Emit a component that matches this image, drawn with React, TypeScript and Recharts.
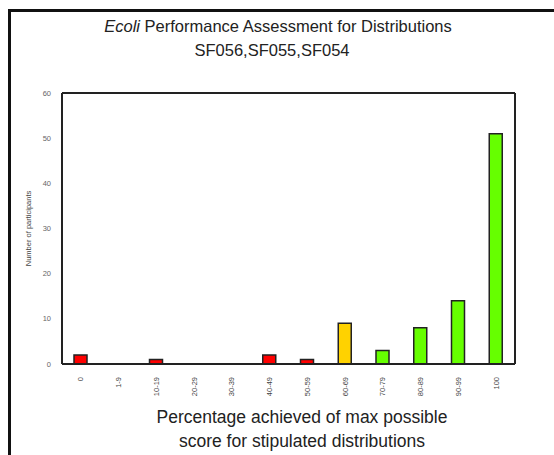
import { BarChart, Bar, XAxis, YAxis, Cell } from "recharts"

const categories = ["0", "1-9", "10-19", "20-29", "30-39", "40-49", "50-59", "60-69", "70-79", "80-89", "90-99", "100"]
const participants = [2, 0, 1, 0, 0, 2, 1, 9, 3, 8, 14, 51]
const barColors = ["#ff0000", "#ff0000", "#ff0000", "#ff0000", "#ff0000", "#ff0000", "#ff0000", "#ffd200", "#66ff00", "#66ff00", "#66ff00", "#66ff00"]
const yTicks = [0, 10, 20, 30, 40, 50, 60]

const data = categories.map((c, i) => ({ range: c, count: participants[i] }))

const font = '"Liberation Sans", Arial, sans-serif'

function RotatedTick(props: any) {
  const { x, y, payload } = props
  return (
    <text
      x={0}
      y={0}
      transform={`translate(${x + 2.5},${y + 5}) rotate(-90)`}
      textAnchor="end"
      fontSize={7.5}
      fill="#444"
      fontFamily={font}
    >
      {payload.value}
    </text>
  )
}

export default function App() {
  return (
    <div style={{ position: "absolute", left: 0, top: 0, width: 554, height: 455, background: "#fff", fontFamily: font }}>
      <div
        style={{
          position: "absolute",
          left: 8,
          top: 9,
          right: 0,
          bottom: 0,
          borderTop: "3px solid #111",
          borderLeft: "3px solid #111",
        }}
      />
      <div style={{ position: "absolute", left: 0, width: 554, top: 14, textAlign: "center", fontSize: 16.5, lineHeight: "24px", color: "#222", paddingLeft: 2, boxSizing: "border-box" }}>
        <div>
          <i>Ecoli</i> Performance Assessment for Distributions
        </div>
        <div style={{ marginLeft: -12 }}>SF056,SF055,SF054</div>
      </div>
      <BarChart
        width={554}
        height={455}
        data={data}
        margin={{ top: 92, right: 38, left: 22, bottom: 51 }}
        barCategoryGap={0}
      >
        <XAxis
          dataKey="range"
          interval={0}
          height={40}
          tick={<RotatedTick />}
          tickLine={false}
          axisLine={{ stroke: "#222", strokeWidth: 2 }}
        />
        <XAxis xAxisId="top" orientation="top" dataKey="range" height={1} tick={false} tickLine={false} axisLine={{ stroke: "#222", strokeWidth: 2 }} />
        <YAxis
          domain={[0, 60]}
          ticks={yTicks}
          width={40}
          tickLine={false}
          axisLine={{ stroke: "#222", strokeWidth: 2 }}
          tick={{ fontSize: 7.5, fill: "#666", fontFamily: font }}
          tickMargin={5}
          label={{
            value: "Number of participants",
            angle: -90,
            position: "insideLeft",
            offset: 6,
            style: { fontSize: 7.5, fill: "#444", fontFamily: font, textAnchor: "middle" },
          }}
        />
        <YAxis yAxisId="right" orientation="right" domain={[0, 60]} width={1} tick={false} tickLine={false} axisLine={{ stroke: "#222", strokeWidth: 2 }} />
        <Bar dataKey="count" barSize={13} stroke="#222" strokeWidth={1.5} isAnimationActive={false}>
          {data.map((d, i) => (
            <Cell key={d.range} fill={barColors[i]} />
          ))}
        </Bar>
      </BarChart>
      <div style={{ position: "absolute", left: 0, width: 554, top: 405, textAlign: "center", fontSize: 17.5, lineHeight: "24px", color: "#222", paddingLeft: 50, boxSizing: "border-box" }}>
        <div>Percentage achieved of max possible</div>
        <div>score for stipulated distributions</div>
      </div>
    </div>
  )
}
